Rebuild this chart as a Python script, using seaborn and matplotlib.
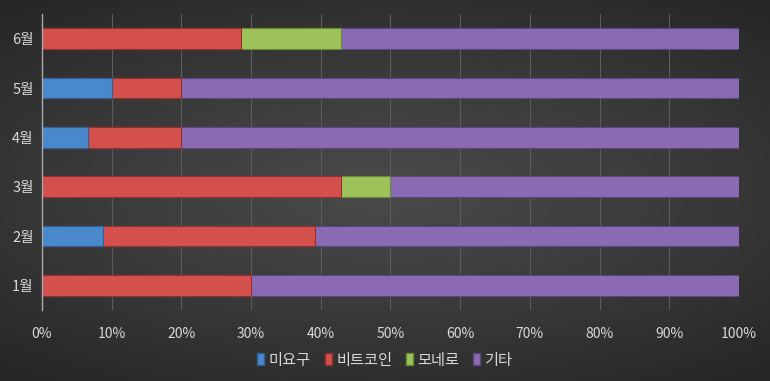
import numpy as np
import pandas as pd
import matplotlib
matplotlib.use("Agg")
import matplotlib.pyplot as plt
from matplotlib.patches import Patch
import seaborn as sns

# 월별 비율 (%)
months = ["6월", "5월", "4월", "3월", "2월", "1월"]
series = ["미요구", "비트코인", "모네로", "기타"]
miyogu = [0.0, 10.0, 6.67, 0.0, 8.70, 0.0]
bitcoin = [28.57, 10.0, 13.33, 42.86, 30.43, 30.0]
monero = [14.29, 0.0, 0.0, 7.14, 0.0, 0.0]
gita = [57.14, 80.0, 80.0, 50.0, 60.87, 70.0]
colors = ["#4a88cc", "#d4504d", "#9dc25a", "#8a6ab2"]
edges = ["#2f5f94", "#93302e", "#6a8a35", "#5d4580"]
xticks = [0, 10, 20, 30, 40, 50, 60, 70, 80, 90, 100]

df = pd.DataFrame({"month": months, "미요구": miyogu, "비트코인": bitcoin,
                   "모네로": monero, "기타": gita})
cum = df[series].cumsum(axis=1)

sns.set_style("dark")
plt.rcParams["font.family"] = ["Noto Sans CJK KR", "DejaVu Sans"]

fig = plt.figure(figsize=(7.7, 3.81), dpi=100)

# background gradient
bg = fig.add_axes([0, 0, 1, 1], zorder=-10)
yy, xx = np.mgrid[-1:1:200j, -1:1:400j]
r = np.sqrt((xx * 0.9) ** 2 + (yy * 1.1) ** 2)
bg.imshow(np.clip(r, 0, 1.4), cmap=matplotlib.colors.LinearSegmentedColormap.from_list(
    "bg", ["#4a4a4a", "#3a3a3a", "#262626"]), aspect="auto", extent=[0, 1, 0, 1])
bg.set_axis_off()

ax = fig.add_axes([0.0545, 0.186, 0.9052, 0.777])
ax.set_facecolor("none")

for i in range(len(series) - 1, -1, -1):
    s = series[i]
    sns.barplot(x=cum[s], y=df["month"], orient="h", color=colors[i],
                width=0.42, edgecolor=edges[i], linewidth=0.8,
                saturation=1, ax=ax, order=months)

ax.set_xlim(0, 100)
ax.set_xticks(xticks)
ax.set_xticklabels([f"{t}%" for t in xticks])
ax.set_xlabel("")
ax.set_ylabel("")
ax.grid(axis="x", color="#5c5c5c", linewidth=0.8)
ax.grid(axis="y", visible=False)
ax.set_axisbelow(True)
ax.tick_params(axis="x", colors="#d8d8d8", labelsize=10, length=0, pad=12)
ax.tick_params(axis="y", colors="#d8d8d8", labelsize=10.5, length=0, pad=6)
for sp in ["top", "right", "bottom"]:
    ax.spines[sp].set_visible(False)
ax.spines["left"].set_color("#a8a8a8")
ax.spines["left"].set_linewidth(1.0)

handles = [Patch(facecolor=c, edgecolor=e, label=s) for c, e, s in zip(colors, edges, series)]
leg = fig.legend(handles=handles, loc="center", bbox_to_anchor=(0.5, 0.055), ncol=4,
                 frameon=False, fontsize=11, handlelength=0.45, handleheight=0.8,
                 handletextpad=0.3, columnspacing=0.9)
for t in leg.get_texts():
    t.set_color("#d8d8d8")

fig.savefig("out.png", dpi=100)
